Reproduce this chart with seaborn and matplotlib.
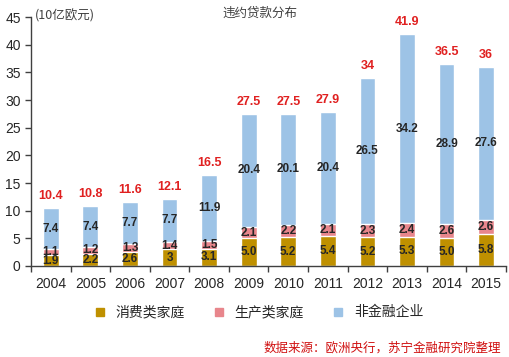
import numpy as np
import pandas as pd
import matplotlib
matplotlib.use("Agg")
import matplotlib.pyplot as plt
import seaborn as sns
from matplotlib.lines import Line2D

sns.set_style("white")
plt.rcParams["font.family"] = ["Liberation Sans", "Noto Sans CJK SC", "DejaVu Sans"]

years = ["2004", "2005", "2006", "2007", "2008", "2009",
         "2010", "2011", "2012", "2013", "2014", "2015"]
consumer = [1.9, 2.2, 2.6, 3.0, 3.1, 5.0, 5.2, 5.4, 5.2, 5.3, 5.0, 5.8]
producer = [1.1, 1.2, 1.3, 1.4, 1.5, 2.1, 2.2, 2.1, 2.3, 2.4, 2.6, 2.6]
nonfin = [7.4, 7.4, 7.7, 7.7, 11.9, 20.4, 20.1, 20.4, 26.5, 34.2, 28.9, 27.6]
consumer_lbl = ["1.9", "2.2", "2.6", "3", "3.1", "5.0", "5.2", "5.4", "5.2", "5.3", "5.0", "5.8"]
total_lbl = ["10.4", "10.8", "11.6", "12.1", "16.5", "27.5", "27.5", "27.9", "34", "41.9", "36.5", "36"]

c_gold = "#BF9000"
c_pink = "#E8868C"
c_blue = "#9DC3E6"

df = pd.DataFrame({"year": years, "consumer": consumer,
                   "producer": producer, "nonfin": nonfin})
df["cp"] = df["consumer"] + df["producer"]
df["total"] = df["cp"] + df["nonfin"]

fig = plt.figure(figsize=(5.09, 3.57), dpi=100)
ax = fig.add_axes([0.061, 0.255, 0.933, 0.697])

sns.barplot(data=df, x="year", y="total", color=c_blue, width=0.4,
            saturation=1, ax=ax)
sns.barplot(data=df, x="year", y="cp", color=c_pink, width=0.4,
            saturation=1, ax=ax)
sns.barplot(data=df, x="year", y="consumer", color=c_gold, width=0.4,
            saturation=1, ax=ax)

lbl_kw = dict(ha="center", va="center", fontsize=8.5, fontweight="bold",
              color="#262626")
for i, r in df.iterrows():
    ax.text(i, r["consumer"] / 2, consumer_lbl[i], **lbl_kw)
    ax.text(i, r["consumer"] + r["producer"] / 2, f"{r['producer']:.1f}", **lbl_kw)
    ax.text(i, r["cp"] + r["nonfin"] / 2, f"{r['nonfin']:.1f}", **lbl_kw)
    ax.text(i, r["total"] + 2.2, total_lbl[i], ha="center", va="center",
            fontsize=9, fontweight="bold", color="#E02020")

ax.set_xlim(-0.5, 11.5)
ax.set_ylim(0, 45)
ax.set_yticks(np.arange(0, 46, 5))
ax.set_xticks(np.arange(len(years)))
ax.set_xticklabels(years)
ax.set_xticks(np.arange(-0.5, 12, 1), minor=True)
ax.tick_params(axis="x", which="major", length=0, labelsize=10, pad=8)
ax.tick_params(axis="x", which="minor", length=4, width=1, direction="out",
               color="#404040", bottom=True)
ax.tick_params(axis="y", length=4, width=1, direction="out", color="#404040",
               labelsize=10, left=True)
ax.set_xlabel("")
ax.set_ylabel("")
for s in ["top", "right"]:
    ax.spines[s].set_visible(False)
for s in ["left", "bottom"]:
    ax.spines[s].set_color("#404040")
    ax.spines[s].set_linewidth(1)

fig.text(0.069, 0.955, "(10亿欧元)", fontsize=9, color="#404040",
         family=["Noto Sans CJK SC", "DejaVu Sans"], va="center")
fig.text(0.51, 0.962, "违约贷款分布", fontsize=9, color="#404040",
         family=["Noto Sans CJK SC", "DejaVu Sans"], ha="center", va="center")

handles = [Line2D([], [], marker="s", ls="", color=c, markersize=6)
           for c in (c_gold, c_pink, c_blue)]
fig.legend(handles, ["消费类家庭", "生产类家庭", "非金融企业"],
           loc="center", bbox_to_anchor=(0.5, 0.125), ncol=3, frameon=False,
           handletextpad=0.1, columnspacing=1.5,
           prop={"family": ["Noto Sans CJK SC", "DejaVu Sans"], "size": 10})

fig.text(0.985, 0.025, "数据来源：欧洲央行，苏宁金融研究院整理", fontsize=9,
         color="#D01010", style="italic", ha="right", va="center",
         family=["Noto Sans CJK SC", "DejaVu Sans"])

fig.savefig("out.png", dpi=100)
